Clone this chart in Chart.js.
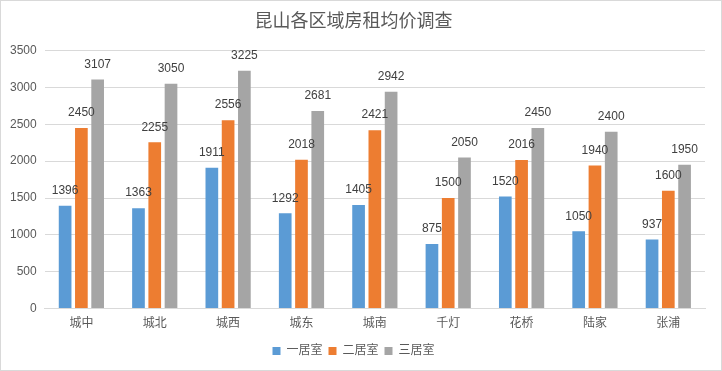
<!DOCTYPE html>
<html>
<head>
<meta charset="utf-8">
<script src="https://cdn.jsdelivr.net/npm/chart.js@4"></script>
<style>
  html, body { margin: 0; padding: 0; background: #fff; }
  #wrap { width: 722px; height: 371px; box-sizing: border-box; border: 1px solid #d9d9d9; }
  canvas { display: block; }
</style>
</head>
<body>
<div id="wrap"><canvas id="bar-chart" width="720" height="369"></canvas></div>
<script>
const ctxBar = document.getElementById('bar-chart');

const districts = ['城中', '城北', '城西', '城东', '城南', '千灯', '花桥', '陆家', '张浦'];
const oneRoom = [1396, 1363, 1911, 1292, 1405, 875, 1520, 1050, 937];
const twoRoom = [2450, 2255, 2556, 2018, 2421, 1500, 2016, 1940, 1600];
const threeRoom = [3107, 3050, 3225, 2681, 2942, 2050, 2450, 2400, 1950];

const FONT = "'Liberation Sans', 'Noto Sans CJK SC', sans-serif";

// value labels above each bar
const barLabels = {
  id: 'barLabels',
  afterDatasetsDraw(chart) {
    const c = chart.ctx;
    c.save();
    c.font = '12px ' + FONT;
    c.fillStyle = '#404040';
    c.textAlign = 'center';
    c.textBaseline = 'middle';
    chart.data.datasets.forEach((ds, i) => {
      chart.getDatasetMeta(i).data.forEach((bar, j) => {
        c.fillText(ds.data[j], bar.x, bar.y - 15);
      });
    });
    c.restore();
  }
};

new Chart(ctxBar, {
  type: 'bar',
  data: {
    labels: districts,
    datasets: [{
      label: '一居室',
      backgroundColor: '#5B9BD5',
      data: oneRoom
    },
    {
      label: '二居室',
      backgroundColor: '#ED7D31',
      data: twoRoom
    },
    {
      label: '三居室',
      backgroundColor: '#A5A5A5',
      data: threeRoom
    }]
  },
  plugins: [barLabels],
  options: {
    responsive: false,
    animation: false,
    datasets: {
      bar: { categoryPercentage: 0.665, barPercentage: 0.78 }
    },
    layout: {
      padding: { left: 1, right: 16, top: 0, bottom: 3 }
    },
    plugins: {
      title: {
        display: true,
        text: '昆山各区域房租均价调查',
        color: '#595959',
        font: { family: FONT, size: 18, weight: 'normal' },
        padding: { top: 10, bottom: 18 }
      },
      legend: {
        position: 'bottom',
        labels: {
          boxWidth: 8,
          boxHeight: 8,
          padding: 6,
          color: '#595959',
          font: { family: FONT, size: 12 }
        }
      },
      tooltip: { enabled: false }
    },
    scales: {
      x: {
        grid: { display: false, drawTicks: false },
        border: { color: '#d9d9d9' },
        ticks: { color: '#595959', padding: 8, font: { family: FONT, size: 12 } }
      },
      y: {
        min: 0,
        max: 3500,
        grid: { color: '#d9d9d9', drawTicks: false },
        border: { display: false },
        ticks: {
          stepSize: 500,
          color: '#595959',
          padding: 8,
          font: { family: FONT, size: 12 },
          callback: (v) => String(v)
        }
      }
    }
  }
});
</script>
</body>
</html>
